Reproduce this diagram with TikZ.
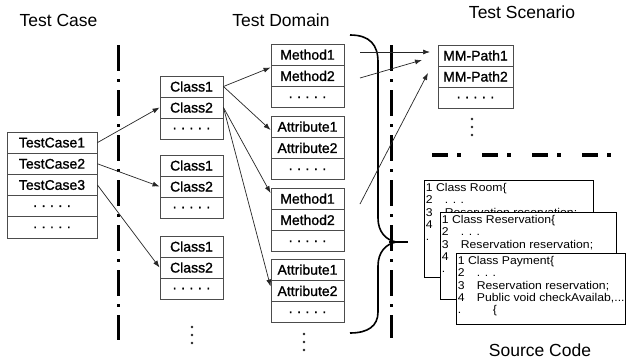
\documentclass[tikz,border=0pt]{standalone}
\usepackage{fontspec}
\setmainfont{Liberation Sans}
\newfontfamily\cellfont[FakeBold=1.2]{Liberation Sans}
\newfontfamily\codefont[FakeStretch=1.08]{Liberation Sans}
\usetikzlibrary{arrows.meta,calc}
\newcommand\dotrow{.\hspace{4.5pt}.\hspace{4.5pt}.\hspace{4.5pt}.\hspace{4.5pt}.}
\newcommand\cn[2]{\makebox[19pt][l]{#1}#2}
\begin{document}
\begin{tikzpicture}[x=1pt,y=-1pt,
  title/.style={font=\fontsize{17.5}{20}\selectfont, anchor=base, inner sep=0pt},
  cell/.style={draw=black!70, line width=0.9pt, fill=white, inner sep=0pt, font=\cellfont\fontsize{14}{16}\selectfont},
  tcrow/.style={cell, minimum width=90pt, minimum height=21.2pt},
  clrow/.style={cell, minimum width=63pt, minimum height=21pt},
  dmrow/.style={cell, minimum width=73pt, minimum height=21.3pt},
  scrow/.style={cell, minimum width=75pt, minimum height=21pt},
  dot/.style={fill=black!85},
  arr/.style={-{Latex[length=7pt,width=5pt]}, line width=0.7pt, draw=black!85},
  vsep/.style={line width=3pt, dash pattern=on 26pt off 8pt on 3pt off 8pt},
  hsep/.style={line width=3.5pt, dash pattern=on 16pt off 9pt on 4pt off 21pt},
  codebox/.style={draw=black, line width=0.6pt, fill=white, inner sep=0pt},
  codetxt/.style={anchor=north west, align=left, inner sep=0pt, font=\codefont\fontsize{11.3}{12.3}\selectfont},
  brace/.style={line width=1.6pt}
]
\useasboundingbox[fill=white] (0,0) rectangle (627,359);

% titles
\node[title] (ttc) at (58.5,26) {Test Case};
\node[title] (ttd) at (281,26) {Test Domain};
\node[title] (tts) at (522,18) {Test Scenario};
\node[title] (tsc) at (540,356.5) {Source Code};

% separators
\draw[vsep] (118,45) -- (118,340);
\draw[vsep] (391,45) -- (391,338);
\draw[hsep] (432,155) -- (627,155);

% test cases
\node[tcrow] (tc1) at (52,142.6) {TestCase1};
\node[tcrow] (tc2) at (52,163.8) {TestCase2};
\node[tcrow] (tc3) at (52,185) {TestCase3};
\node[tcrow] (tc4) at (52,206.2) {\dotrow};
\node[tcrow] (tc5) at (52,227.4) {\dotrow};

% classes
\node[clrow] (c11) at (191.5,86.5) {Class1};
\node[clrow] (c12) at (191.5,107.5) {Class2};
\node[clrow] (c13) at (191.5,128.5) {\dotrow};
\node[clrow] (c21) at (191.5,165.5) {Class1};
\node[clrow] (c22) at (191.5,186.5) {Class2};
\node[clrow] (c23) at (191.5,207.5) {\dotrow};
\node[clrow] (c31) at (191.5,246.5) {Class1};
\node[clrow] (c32) at (191.5,267.5) {Class2};
\node[clrow] (c33) at (191.5,288.5) {\dotrow};
\foreach \yy in {327,335,343} \fill[dot] (192,\yy) circle (1.3);

% domain
\node[dmrow] (m11) at (307.5,54.65) {Method1};
\node[dmrow] (m12) at (307.5,75.95) {Method2};
\node[dmrow] (m13) at (307.5,97.25) {\dotrow};
\node[dmrow] (a21) at (307.5,126.65) {Attribute1};
\node[dmrow] (a22) at (307.5,147.95) {Attribute2};
\node[dmrow] (a23) at (307.5,169.25) {\dotrow};
\node[dmrow] (m31) at (307.5,198.65) {Method1};
\node[dmrow] (m32) at (307.5,219.95) {Method2};
\node[dmrow] (m33) at (307.5,241.25) {\dotrow};
\node[dmrow] (a41) at (307.5,269.65) {Attribute1};
\node[dmrow] (a42) at (307.5,290.95) {Attribute2};
\node[dmrow] (a43) at (307.5,312.25) {\dotrow};
\foreach \yy in {334,342,350} \fill[dot] (304,\yy) circle (1.3);

% scenario
\node[scrow] (mp1) at (475.5,55.5) {MM-Path1};
\node[scrow] (mp2) at (475.5,76.5) {MM-Path2};
\node[scrow] (mp3) at (475.5,97.5) {\dotrow};
\foreach \yy in {119,127,135} \fill[dot] (472,\yy) circle (1.3);

% brace
\draw[brace] (350,35) .. controls (370,35) and (378,45) .. (378,62) -- (378,218)
  .. controls (378,232) and (386,240) .. (396,242)
  .. controls (386,244) and (378,252) .. (378,266) -- (378,312)
  .. controls (378,326) and (368,333) .. (350,333);
\draw[line width=1.3pt] (389,242) -- (408,242);

% arrows
\draw[arr] (tc1.east) -- (c12.west);
\draw[arr] (tc2.east) -- (c22.west);
\draw[arr] (tc3.east) -- (c32.west);
\draw[arr] (c11.east) -- ($(m12.north west)!0.12!(m12.south west)$);
\draw[arr] (c11.east) -- ($(a21.north west)!0.65!(a21.south west)$);
\draw[arr] (c12.east) -- ($(m31.north west)!0.25!(m31.south west)$);
\draw[arr] (c12.east) -- ($(a42.north west)!0.3!(a42.south west)$);

\coordinate (s1) at (360,52);
\coordinate (t1) at (430,52);
\coordinate (s2) at (360,78);
\coordinate (t2) at (422,60);
\coordinate (s3) at (360,204);
\coordinate (t3) at (428,73);
\draw[arr] (s1) -- (t1);
\draw[arr] (s2) -- (t2);
\draw[arr] (s3) -- (t3);

% source code
\node[codebox, minimum width=169pt, minimum height=97pt] (room) at (508.5,228.5) {};
\node[codetxt] (roomtxt) at ($(room.north west)+(2,3.5)$)
  {1 Class Room\{\\ \cn{2}{. . .}\\ \cn{3}{Reservation reservation;}\\ \cn{4}{}\\ .};
\node[codebox, minimum width=176pt, minimum height=87pt] (resv) at (528,255.5) {};
\node[codetxt] (resvtxt) at ($(resv.north west)+(2,3.5)$)
  {1 Class Reservation\{\\ \cn{2}{. . .}\\ \cn{3}{Reservation reservation;}\\ \cn{4}{}\\ .};
\node[codebox, minimum width=169pt, minimum height=71pt] (pay) at (540.5,288.5) {};
\node[codetxt] (paytxt) at ($(pay.north west)+(2,3.5)$)
  {1 Class Payment\{\\ \cn{2}{. . .}\\ \cn{3}{Reservation reservation;}\\ \cn{4}{Public void checkAvailab,...}\\ \makebox[35pt][l]{.}\{};
\end{tikzpicture}
\end{document}
